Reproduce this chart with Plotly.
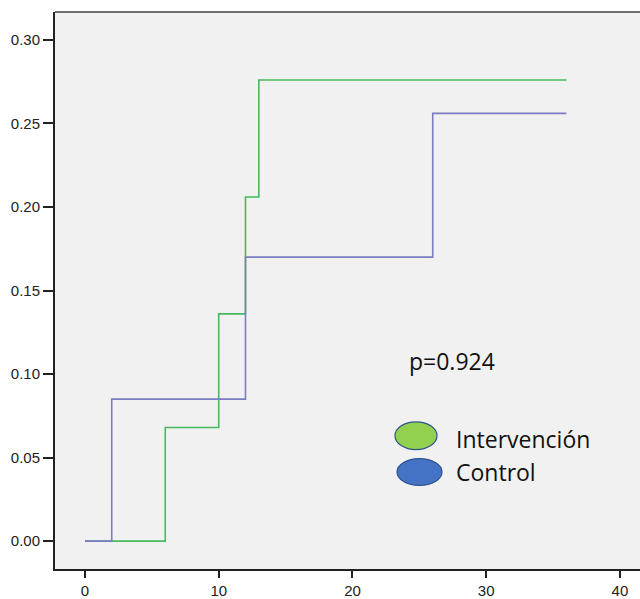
import plotly.graph_objects as go

# Step data (cumulative incidence)
interv_t = [0, 6, 10, 12, 13, 36]
interv_v = [0.0, 0.068, 0.136, 0.206, 0.276, 0.276]
control_t = [0, 2, 12, 26, 36]
control_v = [0.0, 0.085, 0.170, 0.256, 0.256]

x_ticks = [0, 10, 20, 30, 40]
y_ticks = [0.00, 0.05, 0.10, 0.15, 0.20, 0.25, 0.30]
y_tick_text = ["0.00", "0.05", "0.10", "0.15", "0.20", "0.25", "0.30"]

p_text = "p=0.924"
legend_names = ["Intervención", "Control"]

W, H = 640, 599
L, T, B, R = 55, 12, 27, 0
PW, PH = W - L - R, H - T - B

def px(x):
    return (x - L) / PW

def py(y):
    return (H - B - y) / PH

fig = go.Figure()
fig.add_trace(go.Scatter(x=interv_t, y=interv_v, mode="lines",
                         line=dict(color="#44bb5c", width=1.6, shape="hv"),
                         name=legend_names[0], showlegend=False))
fig.add_trace(go.Scatter(x=control_t, y=control_v, mode="lines",
                         line=dict(color="#7c7cc6", width=1.6, shape="hv"),
                         name=legend_names[1], showlegend=False))

# legend ellipses
fig.add_shape(type="circle", xref="paper", yref="paper",
              x0=px(395), x1=px(437), y0=py(452), y1=py(424),
              fillcolor="#92d050", line=dict(color="#2f528f", width=1.2))
fig.add_shape(type="circle", xref="paper", yref="paper",
              x0=px(397), x1=px(442), y0=py(488), y1=py(461),
              fillcolor="#4472c4", line=dict(color="#2f528f", width=1.2))
# top frame line
fig.add_shape(type="line", xref="paper", yref="paper", x0=0, x1=1, y0=1, y1=1,
              line=dict(color="#6e6e6e", width=2))

fnt = dict(family="Open Sans", size=23, color="#111111")
fig.add_annotation(xref="paper", yref="paper", x=px(454), y=py(441),
                   text=legend_names[0], showarrow=False, xanchor="left",
                   yanchor="middle", font=fnt)
fig.add_annotation(xref="paper", yref="paper", x=px(454), y=py(474),
                   text=legend_names[1], showarrow=False, xanchor="left",
                   yanchor="middle", font=fnt)
fig.add_annotation(xref="paper", yref="paper", x=px(407), y=py(363),
                   text=p_text, showarrow=False, xanchor="left",
                   yanchor="middle", font=fnt)

tickfont = dict(family="Liberation Sans", size=15, color="#222222")
fig.update_layout(
    width=W, height=H,
    margin=dict(l=L, r=R, t=T, b=B, pad=0),
    paper_bgcolor="white", plot_bgcolor="#f1f1f1",
    showlegend=False,
    xaxis=dict(range=[-2.243, 41.50], tickvals=x_ticks, showgrid=False,
               zeroline=False, showline=True, linecolor="#222222", linewidth=2,
               ticks="outside", ticklen=7, tickwidth=2, tickcolor="#222222",
               tickfont=tickfont),
    yaxis=dict(range=[-0.01667, 0.31667], tickvals=y_ticks, ticktext=y_tick_text,
               showgrid=False, zeroline=False, showline=True, linecolor="#222222",
               linewidth=2, ticks="outside", ticklen=10, tickwidth=2,
               tickcolor="#222222", tickfont=tickfont),
)

fig.write_html("out.html")
